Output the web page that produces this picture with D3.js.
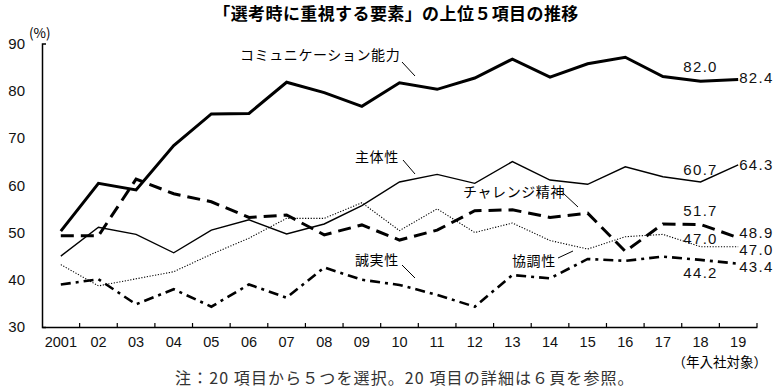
<!DOCTYPE html>
<html><head><meta charset="utf-8">
<script src="https://cdn.jsdelivr.net/npm/d3@7"></script>
<style>
html,body{margin:0;padding:0;background:#fff;}
svg{display:block;}
text{font-family:"Liberation Sans",Arial,"Noto Sans CJK JP",sans-serif;}
.jp{font-family:"Noto Sans CJK JP",sans-serif;}
.num{font-family:"Liberation Sans Narrow","Liberation Sans","Noto Sans CJK JP",sans-serif;}
</style></head>
<body>
<svg id="chart" width="775" height="392"></svg>
<script>
const categories = ["2001","02","03","04","05","06","07","08","09","10","11","12","13","14","15","16","17","18","19"];
const communication = [50.3,60.4,59.0,68.4,75.1,75.2,81.8,79.6,76.7,81.7,80.3,82.7,86.7,82.9,85.7,87.1,83.0,82.0,82.4];
const shutaisei     = [45.0,51.1,49.6,45.7,50.5,52.7,49.7,51.8,55.7,60.7,62.3,60.4,65.0,61.1,60.2,63.9,61.8,60.7,64.3];
const challenge     = [49.3,49.3,61.3,58.2,56.5,53.2,53.7,49.5,51.6,48.4,50.5,54.6,54.8,53.2,54.1,46.0,51.8,51.7,48.9];
const kyochosei     = [43.2,38.7,40.2,41.7,45.4,48.8,53.0,53.0,56.3,50.4,55.0,50.0,52.0,48.3,46.5,49.1,49.6,47.0,47.0];
const seijitsu      = [39.0,40.1,34.8,38.0,34.3,39.0,36.2,42.6,40.0,38.9,36.8,34.3,41.0,40.3,44.4,44.0,44.9,44.2,43.4];
const yTicks = [30,40,50,60,70,80,90];

const svg = d3.select("#chart");
const x = d3.scaleBand().domain(categories).range([42,757]);
const y = d3.scaleLinear().domain([30,90]).range([327,43.5]);
const cx = c => x(c) + x.bandwidth()/2;

// title
svg.append("text").attr("class","jp").attr("x",396).attr("y",20)
  .attr("text-anchor","middle").attr("font-size",17).attr("font-weight","bold").attr("letter-spacing",0.4)
  .text("「選考時に重視する要素」の上位５項目の推移");

// y axis
const yAxis = d3.axisLeft(y).tickValues(yTicks).tickSizeInner(0).tickSizeOuter(-4).tickPadding(17).tickFormat(d3.format("d"));
const gy = svg.append("g").attr("transform","translate(42,0)").call(yAxis);
gy.select(".domain").attr("stroke","#000").attr("stroke-width",1.5);
gy.selectAll("text").attr("font-size",15).attr("fill","#111").attr("font-family","Liberation Sans, Arial, sans-serif");

// x axis
const xAxis = d3.axisBottom(x).tickSize(0).tickPadding(10);
const gx = svg.append("g").attr("transform","translate(0,327)").call(xAxis);
gx.select(".domain").attr("stroke","#000").attr("stroke-width",1.5);
gx.selectAll("text").attr("font-size",14.5).attr("fill","#111").attr("font-family","Liberation Sans, Arial, sans-serif");
// inner ticks at band boundaries
gx.selectAll(".bt").data(categories).enter().append("line")
  .attr("x1",c=>x(c)+x.bandwidth()).attr("x2",c=>x(c)+x.bandwidth())
  .attr("y1",0).attr("y2",-4).attr("stroke","#000").attr("stroke-width",1.2);

svg.append("text").attr("class","jp").attr("x",29).attr("y",38).attr("font-size",13.5).text("(%)");
svg.append("text").attr("class","jp").attr("x",767).attr("y",367).attr("text-anchor","end").attr("font-size",13.5).text("（年入社対象）");

// lines
const series = [
  {v:seijitsu, w:2.6, dash:"10,5,3,5"},
  {v:kyochosei, w:1.1, dash:"1.2,1.6"},
  {v:shutaisei, w:1.4, dash:null},
  {v:challenge, w:3, dash:"13,7"},
  {v:communication, w:3, dash:null}
];
const line = d3.line().x((d,i)=>cx(categories[i])).y(d=>y(d));
series.forEach(s=>{
  svg.append("path").datum(s.v).attr("d",line).attr("fill","none")
    .attr("stroke","#000").attr("stroke-width",s.w).attr("stroke-linejoin","miter")
    .attr("stroke-dasharray",s.dash);
});

// series labels with leader lines
const labels = [
  {t:"コミュニケーション能力", x:240, y:60, l:[402,62,415,76]},
  {t:"主体性", x:355, y:162, l:[403,160,415,174]},
  {t:"チャレンジ精神", x:463, y:197, l:[563,193,578,207]},
  {t:"誠実性", x:355, y:265, l:[402,265,415,278]},
  {t:"協調性", x:512, y:266, l:[558,258,573,251]}
];
labels.forEach(o=>{
  svg.append("text").attr("class","jp").attr("x",o.x).attr("y",o.y).attr("font-size",14).attr("letter-spacing",0.6).text(o.t);
  svg.append("line").attr("x1",o.l[0]).attr("y1",o.l[1]).attr("x2",o.l[2]).attr("y2",o.l[3]).attr("stroke","#000").attr("stroke-width",1);
});

// value labels
const n18 = categories.indexOf("18"), n19 = categories.indexOf("19");
const vals = [
  {v:communication, dy18:-9, dy19:4},
  {v:shutaisei, dy18:-7, dy19:5},
  {v:challenge, dy18:-8, dy19:0},
  {v:kyochosei, dy18:-3, dy19:8},
  {v:seijitsu, dy18:18, dy19:8}
];
vals.forEach(o=>{
  svg.append("text").attr("class","num").attr("x",cx("18")).attr("y",y(o.v[n18])+o.dy18)
    .attr("text-anchor","middle").attr("font-size",15).attr("letter-spacing",1.3).attr("fill","#111").text(o.v[n18].toFixed(1));
  svg.append("text").attr("class","num").attr("x",cx("19")+1).attr("y",y(o.v[n19])+o.dy19)
    .attr("font-size",15).attr("letter-spacing",1.3).attr("fill","#111").text(o.v[n19].toFixed(1));
});

// note
svg.append("text").attr("class","jp").attr("x",175).attr("y",384).attr("font-size",16).attr("letter-spacing",1.1).attr("fill","#333")
  .text("注：20 項目から５つを選択。20 項目の詳細は６頁を参照。");
</script>
</body></html>
